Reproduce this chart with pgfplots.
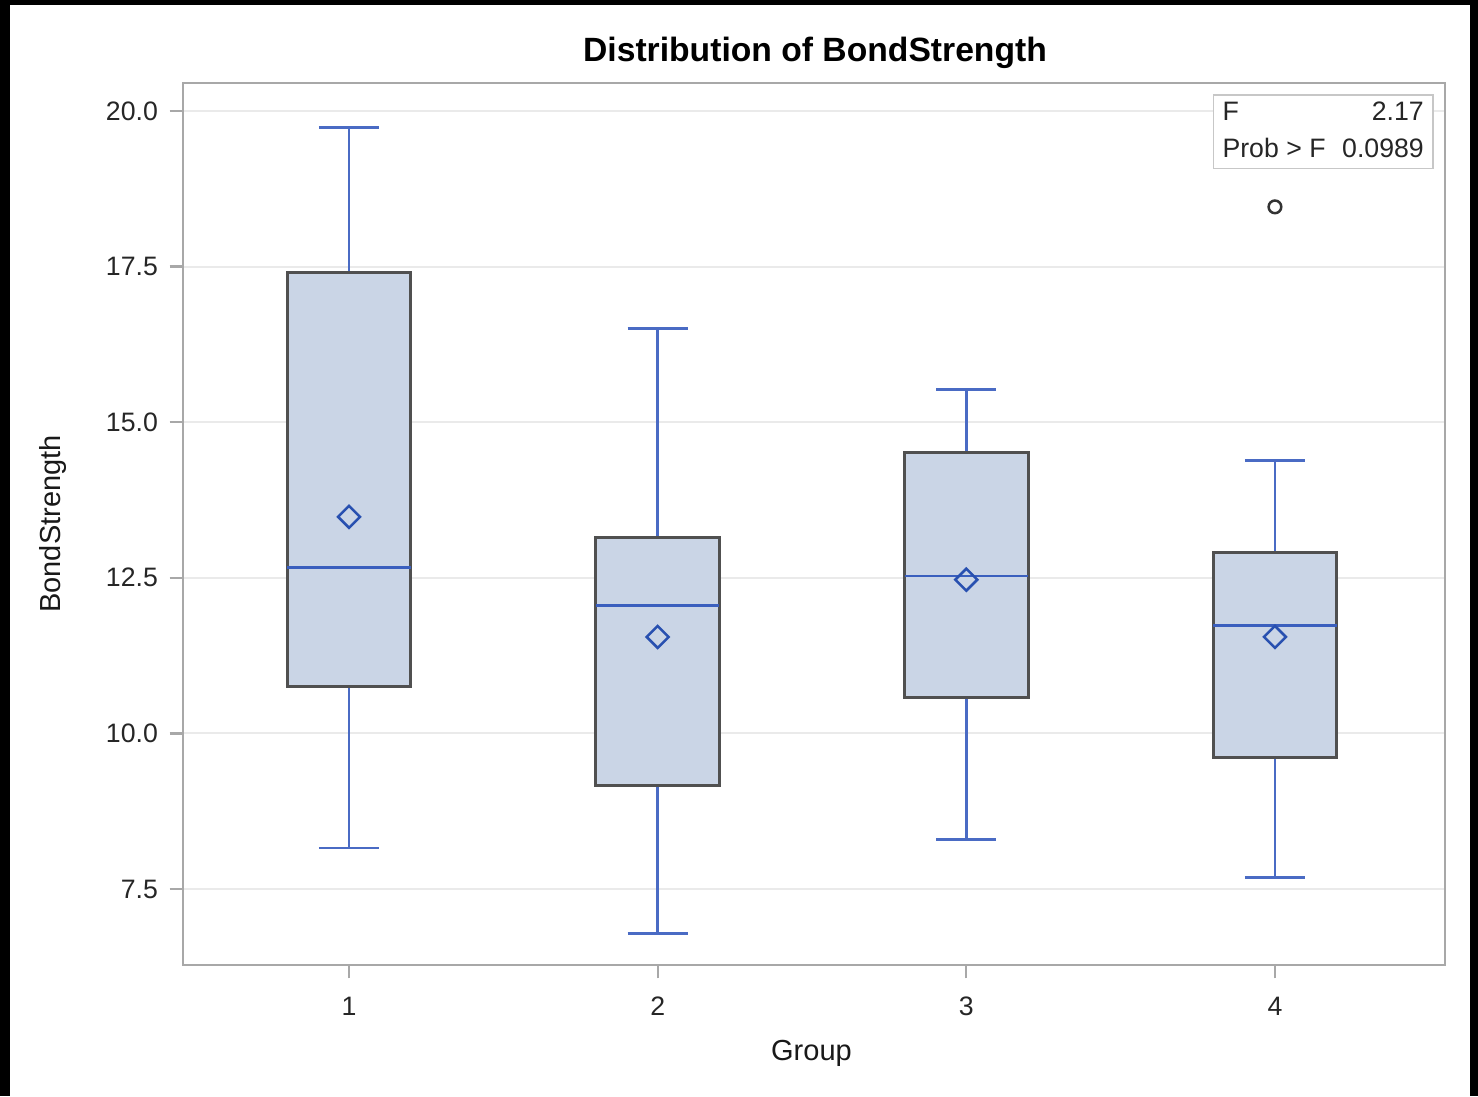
\documentclass[border=0pt]{standalone}
\usepackage{fontspec}
\setmainfont{Liberation Sans}
\usepackage{pgfplots}
\pgfplotsset{compat=1.18}
\definecolor{boxfill}{HTML}{CAD5E6}
\definecolor{boxedge}{HTML}{505050}
\definecolor{whisk}{HTML}{4A6BC4}
\definecolor{medc}{HTML}{3A5FBE}
\definecolor{meanc}{HTML}{2850B0}
\definecolor{gridc}{HTML}{EAEAEA}
\definecolor{framec}{HTML}{A8A8A8}
\begin{document}
\begin{tikzpicture}
\fill[black] (0,0) rectangle (443.4pt,-328.8pt);
\fill[white] (3pt,-1.5pt) rectangle (441pt,-328.8pt);
\begin{axis}[
  at={(54.9pt,-24.9pt)}, anchor=north west,
  scale only axis, width=378.6pt, height=264.6pt,
  xmin=0.462, xmax=4.551, ymin=6.279, ymax=20.45,
  xtick={1,2,3,4}, ytick={7.5,10,12.5,15,17.5,20},
  xtick pos=lower, ytick pos=left,
  tick align=outside, major tick length=4pt,
  every tick/.style={draw=framec, line width=0.7pt},
  axis line style={draw=framec, line width=0.6pt},
  ymajorgrids, grid style={draw=gridc, line width=0.6pt},
  /pgf/number format/assume math mode=true,
  yticklabel style={/pgf/number format/.cd, fixed, fixed zerofill, precision=1},
  xticklabel style={yshift=-2pt},
  ticklabel style={font=\fontsize{8}{9.6}\selectfont, text=black!85},
  title={\textbf{Distribution of BondStrength}},
  every axis title/.style={font=\fontsize{10.1}{12}\selectfont, at={(axis description cs:0.5008,1.0345)}, anchor=center},
  xlabel={Group}, ylabel={BondStrength},
  every axis x label/.style={at={(axis description cs:0.498,-0.0998)}, anchor=center, font=\fontsize{8.7}{10}\selectfont, text=black!90},
  every axis y label/.style={at={(axis description cs:-0.1030,0.5)}, anchor=center, rotate=90, font=\fontsize{8.7}{10}\selectfont, text=black!90},
  wh/.style={draw=whisk, line width=0.85pt, mark=none},
  bx/.style={draw=boxedge, fill=boxfill, line width=0.9pt, mark=none, line join=miter},
  md/.style={draw=medc, line width=0.85pt, mark=none},
]
% ---- Group 1: lw 8.16, q1 10.76, med 12.66, q3 17.40, uw 19.74
\addplot[wh] coordinates {(1,17.40) (1,19.74)};
\addplot[wh] coordinates {(0.9025,19.74) (1.0975,19.74)};
\addplot[wh] coordinates {(1,10.76) (1,8.16)};
\addplot[wh] coordinates {(0.9025,8.16) (1.0975,8.16)};
\addplot[bx] coordinates {(0.8,10.76) (1.2,10.76) (1.2,17.40) (0.8,17.40)} -- cycle;
\addplot[md] coordinates {(0.8,12.66) (1.2,12.66)};
% ---- Group 2: lw 6.78, q1 9.17, med 12.05, q3 13.14, uw 16.51
\addplot[wh] coordinates {(2,13.14) (2,16.51)};
\addplot[wh] coordinates {(1.9025,16.51) (2.0975,16.51)};
\addplot[wh] coordinates {(2,9.17) (2,6.78)};
\addplot[wh] coordinates {(1.9025,6.78) (2.0975,6.78)};
\addplot[bx] coordinates {(1.8,9.17) (2.2,9.17) (2.2,13.14) (1.8,13.14)} -- cycle;
\addplot[md] coordinates {(1.8,12.05) (2.2,12.05)};
% ---- Group 3: lw 8.30, q1 10.57, med 12.53, q3 14.52, uw 15.52
\addplot[wh] coordinates {(3,14.52) (3,15.52)};
\addplot[wh] coordinates {(2.9025,15.52) (3.0975,15.52)};
\addplot[wh] coordinates {(3,10.57) (3,8.30)};
\addplot[wh] coordinates {(2.9025,8.30) (3.0975,8.30)};
\addplot[bx] coordinates {(2.8,10.57) (3.2,10.57) (3.2,14.52) (2.8,14.52)} -- cycle;
\addplot[md] coordinates {(2.8,12.53) (3.2,12.53)};
% ---- Group 4: lw 7.68, q1 9.62, med 11.74, q3 12.90, uw 14.38
\addplot[wh] coordinates {(4,12.90) (4,14.38)};
\addplot[wh] coordinates {(3.9025,14.38) (4.0975,14.38)};
\addplot[wh] coordinates {(4,9.62) (4,7.68)};
\addplot[wh] coordinates {(3.9025,7.68) (4.0975,7.68)};
\addplot[bx] coordinates {(3.8,9.62) (4.2,9.62) (4.2,12.90) (3.8,12.90)} -- cycle;
\addplot[md] coordinates {(3.8,11.74) (4.2,11.74)};
% means
\addplot[only marks, mark=square, mark size=2.33pt, mark options={rotate=45, draw=meanc, line width=0.75pt, fill=none}] coordinates {(1,13.48) (2,11.55) (3,12.47) (4,11.55)};
% outlier
\addplot[only marks, mark=o, mark size=1.9pt, mark options={draw=black!80, line width=0.75pt}] coordinates {(4,18.46)};
\node[anchor=north east, draw=black!22, fill=white, line width=0.5pt, inner xsep=2.7pt, inner ysep=0pt, font=\fontsize{8}{11}\selectfont, text=black!85] at (rel axis cs:0.991,0.987) {\begin{tabular}{@{}l@{\hspace{5pt}}r@{}}F & 2.17\\ Prob > F & 0.0989\end{tabular}};
\end{axis}
\end{tikzpicture}
\end{document}
